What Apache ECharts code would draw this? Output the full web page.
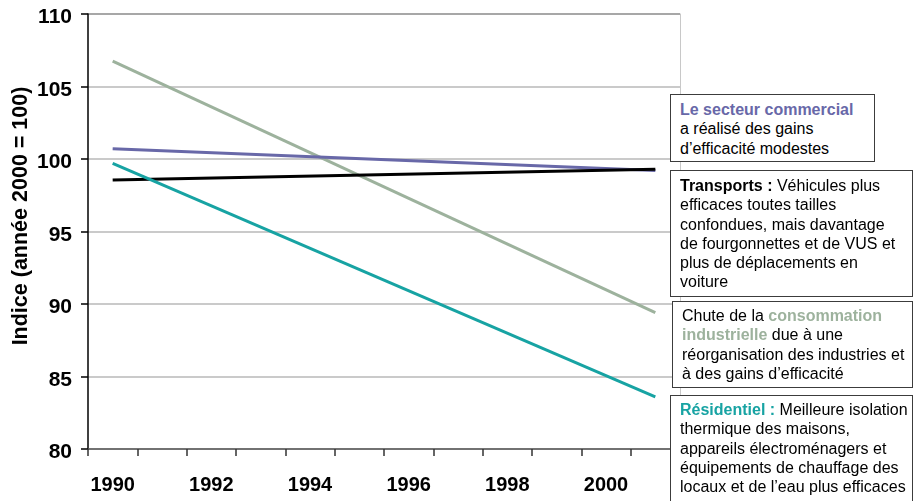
<!DOCTYPE html>
<html>
<head>
<meta charset="utf-8">
<script src="https://cdn.jsdelivr.net/npm/echarts@6/dist/echarts.min.js"></script>
<style>
  html, body { margin: 0; padding: 0; background: #fff; }
  #chart { width: 918px; height: 501px; position: relative; }
  .note {
    position: absolute; background: #fff; border: 1.5px solid #3c3c3c;
    font-family: "Liberation Sans", Arial, sans-serif; font-size: 16px;
    line-height: 19.3px; color: #000; padding: 5px 0 3px 9px; box-sizing: border-box;
    white-space: nowrap;
  }
  .note b { font-weight: bold; }
</style>
</head>
<body>
<div id="chart"></div>
<div class="note" style="left:670px; top:94px; width:205px; height:68px;"><b style="color:#6868a8">Le secteur commercial</b><br>a réalisé des gains<br>d’efficacité modestes</div>
<div class="note" style="left:670px; top:170px; width:243px; height:127px;"><b>Transports :</b> Véhicules plus<br>efficaces toutes tailles<br>confondues, mais davantage<br>de fourgonnettes et de VUS et<br>plus de déplacements en<br>voiture</div>
<div class="note" style="left:672px; top:301px; width:241px; height:87px; padding-top:4px;">Chute de la <b style="color:#9db29d">consommation<br>industrielle</b> due à une<br>réorganisation des industries et<br>à des gains d’efficacité</div>
<div class="note" style="left:670px; top:395px; width:243px; height:110px; padding-top:4px;"><b style="color:#17a3a3">Résidentiel :</b> Meilleure isolation<br>thermique des maisons,<br>appareils électroménagers et<br>équipements de chauffage des<br>locaux et de l’eau plus efficaces</div>
<script>
// Energy-use index by sector (year 2000 = 100): each sector is a straight
// trend from 1990 to 2001, so only the two end years carry a value.
const years = ['1990','1991','1992','1993','1994','1995','1996','1997','1998','1999','2000','2001'];
const commercial  = [100.7, null, null, null, null, null, null, null, null, null, null, 99.2];
const transports  = [98.55, null, null, null, null, null, null, null, null, null, null, 99.3];
const industriel  = [106.75, null, null, null, null, null, null, null, null, null, null, 89.4];
const residentiel = [99.7, null, null, null, null, null, null, null, null, null, null, 83.6];
const yTitle = 'Indice (année 2000 = 100)';

const font = '"Liberation Sans", Arial, sans-serif';
const chart = echarts.init(document.getElementById('chart'), null, { renderer: 'canvas' });

function line(name, data, color) {
  return {
    name, type: 'line', data, symbol: 'none', connectNulls: true,
    lineStyle: { color, width: 3, cap: 'butt' }, z: 3, animation: false
  };
}

chart.setOption({
  animation: false,
  grid: { left: 88, right: 238, top: 14, bottom: 52 },
  xAxis: {
    type: 'category', data: years, boundaryGap: true,
    axisLine: { lineStyle: { color: '#555', width: 1.5 } },
    axisTick: { show: true, inside: false, length: 7, interval: 0, lineStyle: { color: '#333', width: 1.5 } },
    axisLabel: { interval: 1, margin: 26, color: '#000', fontFamily: font, fontWeight: 'bold', fontSize: 20 },
    splitLine: { show: false }
  },
  yAxis: [{
    type: 'value', min: 80, max: 110, interval: 5,
    axisLine: { show: true, lineStyle: { color: '#000', width: 1.5 } },
    axisTick: { show: true, inside: false, length: 7, lineStyle: { color: '#000', width: 1.5 } },
    axisLabel: {
      margin: 16, formatter: '{v|{value}}',
      rich: { v: { color: '#000', fontFamily: font, fontWeight: 'bold', fontSize: 21, padding: [7, 0, 0, 0] } }
    },
    splitLine: { show: true, lineStyle: { width: 1.5, color: ['#b8b8b8','#b8b8b8','#b8b8b8','#b8b8b8','#b8b8b8','#b8b8b8','#8a8a8a'] } }
  }, {
    type: 'value', min: 80, max: 110, interval: 5, position: 'right',
    axisLine: { show: true, lineStyle: { color: '#c8c8c8', width: 1 } },
    axisTick: { show: false }, axisLabel: { show: false }, splitLine: { show: false }
  }],
  graphic: [{
    type: 'text', x: 10, y: 216, rotation: Math.PI / 2,
    style: {
      text: yTitle, fill: '#000', font: 'bold 21.5px ' + font,
      textAlign: 'center', textVerticalAlign: 'top'
    }
  }],
  series: [
    line('Industriel', industriel, '#9db29d'),
    line('Commercial', commercial, '#6868a8'),
    line('Transports', transports, '#000000'),
    line('Résidentiel', residentiel, '#17a3a3')
  ]
});
</script>
</body>
</html>
